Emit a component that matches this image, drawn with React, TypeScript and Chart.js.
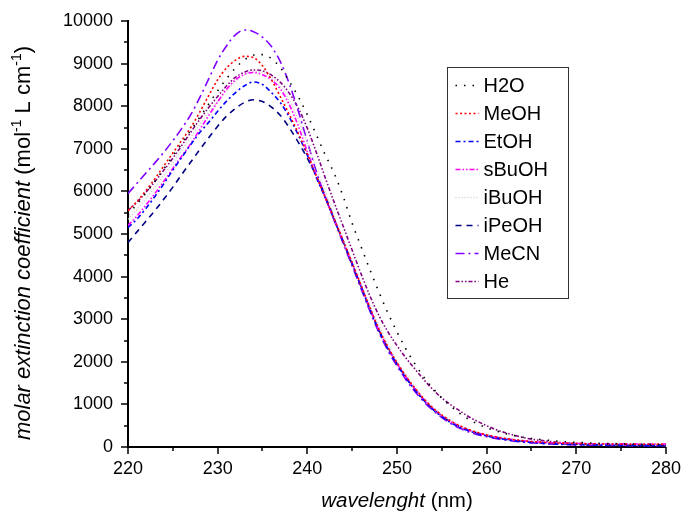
import React, { useEffect, useRef } from "react";
import { Chart, registerables } from "chart.js";

Chart.register(...registerables);

const wavelengths = [
  220, 221, 222, 223, 224, 225, 226, 227, 228, 229,
  230, 231, 232, 233, 234, 235, 236, 237, 238, 239,
  240, 241, 242, 243, 244, 245, 246, 247, 248, 249,
  250, 251, 252, 253, 254, 255, 256, 257, 258, 259,
  260, 261, 262, 263, 264, 265, 266, 267, 268, 269,
  270, 271, 272, 273, 274, 275, 276, 277, 278, 279,
  280,
];

const H2O = [
  5450, 5700, 5960, 6240, 6530, 6830, 7130, 7430, 7740, 8050,
  8360, 8650, 8900, 9090, 9200, 9210, 9120, 8900, 8580, 8220,
  7800, 7330, 6860, 6420, 5880, 5250, 4700, 4150, 3630, 3140,
  2700, 2300, 1950, 1640, 1380, 1150, 960, 790, 650, 540,
  450, 380, 320, 270, 230, 200, 175, 155, 135, 120,
  110, 100, 92, 85, 80, 75, 70, 66, 62, 60,
  58,
];

const MeOH = [
  5550, 5760, 6020, 6300, 6600, 6900, 7200, 7500, 7860, 8250,
  8620, 8900, 9080, 9170, 9140, 8950, 8620, 8220, 7800, 7360,
  6880, 6360, 5860, 5350, 4840, 4320, 3790, 3260, 2760, 2340,
  1980, 1660, 1380, 1130, 920, 750, 610, 500, 410, 340,
  285, 240, 205, 175, 150, 130, 115, 103, 94, 87,
  82, 78, 75, 72, 70, 68, 66, 65, 64, 63,
  62,
];

const EtOH = [
  5150, 5350, 5600, 5880, 6180, 6500, 6800, 7100, 7380, 7620,
  7880, 8120, 8320, 8480, 8570, 8510, 8320, 8080, 7740, 7320,
  6850, 6330, 5850, 5330, 4820, 4300, 3760, 3220, 2720, 2300,
  1940, 1620, 1340, 1090, 880, 710, 570, 460, 380, 310,
  260, 215, 180, 150, 125, 105, 90, 78, 68, 60,
  54, 50, 46, 43, 40, 38, 36, 34, 32, 31,
  30,
];

const sBuOH = [
  5200, 5420, 5680, 5950, 6240, 6540, 6830, 7120, 7450, 7780,
  8100, 8400, 8620, 8750, 8790, 8740, 8620, 8400, 8030, 7530,
  6930, 6370, 5860, 5340, 4830, 4310, 3780, 3240, 2740, 2320,
  1960, 1640, 1360, 1110, 900, 730, 590, 480, 395, 330,
  275, 232, 198, 170, 146, 127, 112, 100, 92, 86,
  82, 79, 77, 75, 74, 73, 72, 71, 70, 70,
  70,
];

const iBuOH = [
  5350, 5580, 5830, 6100, 6380, 6670, 6970, 7270, 7570, 7850,
  8120, 8370, 8580, 8740, 8820, 8800, 8680, 8460, 8130, 7680,
  7130, 6560, 5990, 5420, 4880, 4350, 3830, 3310, 2830, 2400,
  2020, 1690, 1400, 1150, 940, 760, 620, 500, 410, 340,
  285, 240, 205, 175, 150, 130, 115, 100, 90, 82,
  76, 71, 67, 64, 61, 59, 57, 55, 54, 53,
  52,
];

const iPeOH = [
  4800, 5050, 5300, 5550, 5820, 6100, 6400, 6690, 6980, 7260,
  7530, 7770, 7950, 8090, 8150, 8110, 7980, 7780, 7490, 7150,
  6780, 6360, 5890, 5360, 4820, 4290, 3760, 3230, 2740, 2320,
  1960, 1640, 1360, 1110, 900, 730, 590, 480, 395, 325,
  270, 225, 190, 160, 135, 115, 100, 88, 78, 70,
  64, 59, 55, 52, 49, 47, 45, 43, 42, 41,
  40,
];

const MeCN = [
  5950, 6190, 6430, 6670, 6920, 7190, 7480, 7800, 8200, 8640,
  9080, 9420, 9680, 9790, 9750, 9620, 9400, 9040, 8520, 7880,
  7170, 6470, 5870, 5320, 4780, 4250, 3710, 3180, 2680, 2260,
  1900, 1580, 1300, 1060, 860, 690, 550, 440, 355, 290,
  240, 198, 165, 137, 115, 97, 83, 72, 63, 56,
  50, 46, 42, 39, 37, 35, 33, 32, 31, 30,
  29,
];

const He = [
  5550, 5750, 5980, 6230, 6500, 6780, 7080, 7390, 7690, 7970,
  8230, 8480, 8680, 8800, 8850, 8830, 8730, 8560, 8300, 7950,
  7480, 6920, 6320, 5740, 5180, 4620, 4060, 3540, 3080, 2700,
  2380, 2090, 1830, 1580, 1350, 1150, 990, 850, 710, 600,
  500, 410, 340, 280, 225, 185, 155, 130, 110, 95,
  85, 77, 70, 65, 60, 56, 53, 50, 48, 46,
  45,
];

const seriesNames = ["H2O", "MeOH", "EtOH", "sBuOH", "iBuOH", "iPeOH", "MeCN", "He"];
const seriesValues = [H2O, MeOH, EtOH, sBuOH, iBuOH, iPeOH, MeCN, He];
const seriesColors = ["#000000", "#ff0000", "#0000ff", "#ff00ff", "#d4c8d0", "#000080", "#8000ff", "#800080"];
const seriesDashes = [
  [1.5, 7],
  [2, 2.5],
  [5, 3, 2, 3],
  [5, 2, 1.5, 2, 1.5, 2],
  [1, 2],
  [6, 5],
  [9, 4, 2, 4],
  [4, 2, 1.5, 2, 1.5, 2],
];

const xMin = 220;
const xMax = 280;
const yMin = 0;
const yMax = 10000;

const FONT = "'Liberation Sans', Arial, sans-serif";

const decorPlugin = {
  id: "decor",
  afterDraw(chart: any) {
    const ctx = chart.ctx;
    const xs = chart.scales.x;
    const ys = chart.scales.y;
    const { left, right, bottom } = chart.chartArea;
    ctx.save();
    ctx.setLineDash([]);
    ctx.strokeStyle = "#000";
    ctx.lineWidth = 1.5;
    for (let v = yMin; v <= yMax; v += 500) {
      const py = Math.round(ys.getPixelForValue(v));
      const len = v % 1000 === 0 ? 7 : 4;
      ctx.beginPath();
      ctx.moveTo(left - len, py);
      ctx.lineTo(left, py);
      ctx.stroke();
    }
    for (let w = xMin; w <= xMax; w += 5) {
      const px = Math.round(xs.getPixelForValue(w));
      const len = w % 10 === 0 ? 7 : 4;
      ctx.beginPath();
      ctx.moveTo(px, bottom);
      ctx.lineTo(px, bottom + len);
      ctx.stroke();
    }

    ctx.fillStyle = "#000";
    const segs = [
      { t: "molar extinction coefficient", it: true, sup: false },
      { t: " (mol", it: false, sup: false },
      { t: "-1", it: false, sup: true },
      { t: " L cm", it: false, sup: false },
      { t: "-1", it: false, sup: true },
      { t: ")", it: false, sup: false },
    ];
    const yFont = (s: any) => `${s.it ? "italic " : ""}${s.sup ? 14 : 22}px ${FONT}`;
    let total = 0;
    for (const s of segs) {
      ctx.font = yFont(s);
      total += ctx.measureText(s.t).width;
    }
    ctx.save();
    ctx.translate(22, 243);
    ctx.rotate(-Math.PI / 2);
    ctx.textBaseline = "alphabetic";
    ctx.textAlign = "left";
    let cx = -total / 2;
    for (const s of segs) {
      ctx.font = yFont(s);
      ctx.fillText(s.t, cx, s.sup ? -1 : 8);
      cx += ctx.measureText(s.t).width;
    }
    ctx.restore();

    const xFont = (s: any) => `${s.it ? "italic " : ""}20.5px ${FONT}`;
    const xsegs = [
      { t: "wavelenght", it: true },
      { t: " (nm)", it: false },
    ];
    let xt = 0;
    for (const s of xsegs) {
      ctx.font = xFont(s);
      xt += ctx.measureText(s.t).width;
    }
    let xx = (left + right) / 2 - xt / 2;
    ctx.textAlign = "left";
    ctx.textBaseline = "alphabetic";
    for (const s of xsegs) {
      ctx.font = xFont(s);
      ctx.fillText(s.t, xx, 507);
      xx += ctx.measureText(s.t).width;
    }

    const bx = 447.5;
    const by = 67.5;
    const bw = 121;
    const bh = 231;
    ctx.strokeStyle = "#333";
    ctx.lineWidth = 1;
    ctx.strokeRect(bx, by, bw, bh);
    const rowH = 28.1;
    for (let i = 0; i < seriesNames.length; i++) {
      const cy = Math.round(by + 17 + i * rowH);
      ctx.strokeStyle = seriesColors[i];
      ctx.lineWidth = 1.5;
      ctx.setLineDash(seriesDashes[i]);
      ctx.beginPath();
      ctx.moveTo(bx + 8, cy + 0.5);
      ctx.lineTo(bx + 31, cy + 0.5);
      ctx.stroke();
      ctx.setLineDash([]);
      ctx.fillStyle = "#000";
      ctx.font = `20px ${FONT}`;
      ctx.textBaseline = "middle";
      ctx.fillText(seriesNames[i], bx + 36, cy + 1);
    }
    ctx.restore();
  },
};

export default function App() {
  const canvasRef = useRef<HTMLCanvasElement | null>(null);

  useEffect(() => {
    if (!canvasRef.current) return;
    const datasets = seriesNames.map((name, i) => ({
      label: name,
      data: wavelengths.map((w, j) => ({ x: w, y: seriesValues[i][j] })),
      borderColor: seriesColors[i],
      backgroundColor: seriesColors[i],
      borderWidth: 1.6,
      borderDash: seriesDashes[i],
      pointRadius: 0,
      fill: false,
      cubicInterpolationMode: "monotone" as const,
    }));
    const chart = new Chart(canvasRef.current, {
      type: "line",
      data: { datasets },
      options: {
        responsive: false,
        animation: false,
        maintainAspectRatio: false,
        layout: { padding: { left: 0, top: 21, right: 17, bottom: 0 } },
        plugins: {
          legend: { display: false },
          tooltip: { enabled: false },
        },
        scales: {
          x: {
            type: "linear",
            min: xMin,
            max: xMax,
            grid: { display: false, tickLength: 7 },
            border: { display: true, color: "#000", width: 2 },
            ticks: {
              stepSize: 10,
              color: "#000",
              font: { family: FONT, size: 18 },
              padding: 4,
              maxRotation: 0,
              callback: (v: any) => String(v),
            },
            afterFit(scale: any) {
              scale.height = 71;
            },
          },
          y: {
            type: "linear",
            min: yMin,
            max: yMax,
            grid: { display: false, tickLength: 7 },
            border: { display: true, color: "#000", width: 2 },
            ticks: {
              stepSize: 1000,
              color: "#000",
              font: { family: FONT, size: 18 },
              padding: 8,
              callback: (v: any) => String(v),
            },
            afterFit(scale: any) {
              scale.width = 128;
            },
          },
        },
      },
      plugins: [decorPlugin],
    });
    return () => chart.destroy();
  }, []);

  return (
    <div style={{ position: "absolute", left: 0, top: 0, width: 685, height: 518, background: "#fff" }}>
      <canvas ref={canvasRef} width={685} height={518} style={{ width: 685, height: 518 }} />
    </div>
  );
}
